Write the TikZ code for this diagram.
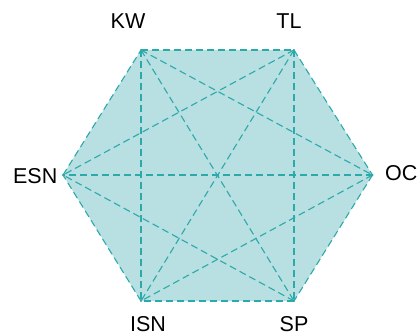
\documentclass[tikz,border=0pt]{standalone}
\usepackage{fontspec}
\setmainfont{Liberation Sans}
\definecolor{hexfill}{HTML}{B8DFE2}
\definecolor{hexline}{HTML}{2CA9A9}
\begin{document}
\begin{tikzpicture}[x=1pt,y=-1pt,
  edge/.style={draw=hexline,line width=1.1pt,dash pattern=on 7pt off 4pt},
  lab/.style={font=\fontsize{21.5}{24}\selectfont,inner sep=0pt,text=black},
  vdot/.style={circle,fill=hexline,inner sep=0pt,minimum size=2.4pt}]
\useasboundingbox (0,0) rectangle (417,336);
\coordinate (KW) at (141,50);
\coordinate (TL) at (294,50);
\coordinate (OC) at (372.5,175);
\coordinate (SP) at (294,301);
\coordinate (ISN) at (141,301);
\coordinate (ESN) at (63,175);
\fill[hexfill] (KW) -- (TL) -- (OC) -- (SP) -- (ISN) -- (ESN) -- cycle;
\foreach \a/\b in {KW/TL,TL/OC,OC/SP,SP/ISN,ISN/ESN,ESN/KW,
  KW/OC,KW/SP,KW/ISN,TL/SP,TL/ISN,TL/ESN,OC/ISN,OC/ESN,SP/ESN}
  \draw[edge] (\a) -- (\b);
\foreach \v in {KW,TL,OC,SP,ISN,ESN} \node[vdot] at (\v) {};
\node[lab] (lKW) at (128,21) {KW};
\node[lab] (lTL) at (289,21) {TL};
\node[lab,anchor=west] (lOC) at (385,173) {OC};
\node[lab,anchor=east] (lESN) at (57.5,176) {ESN};
\node[lab] (lISN) at (148,324) {ISN};
\node[lab] (lSP) at (294,324) {SP};
\end{tikzpicture}
\end{document}
